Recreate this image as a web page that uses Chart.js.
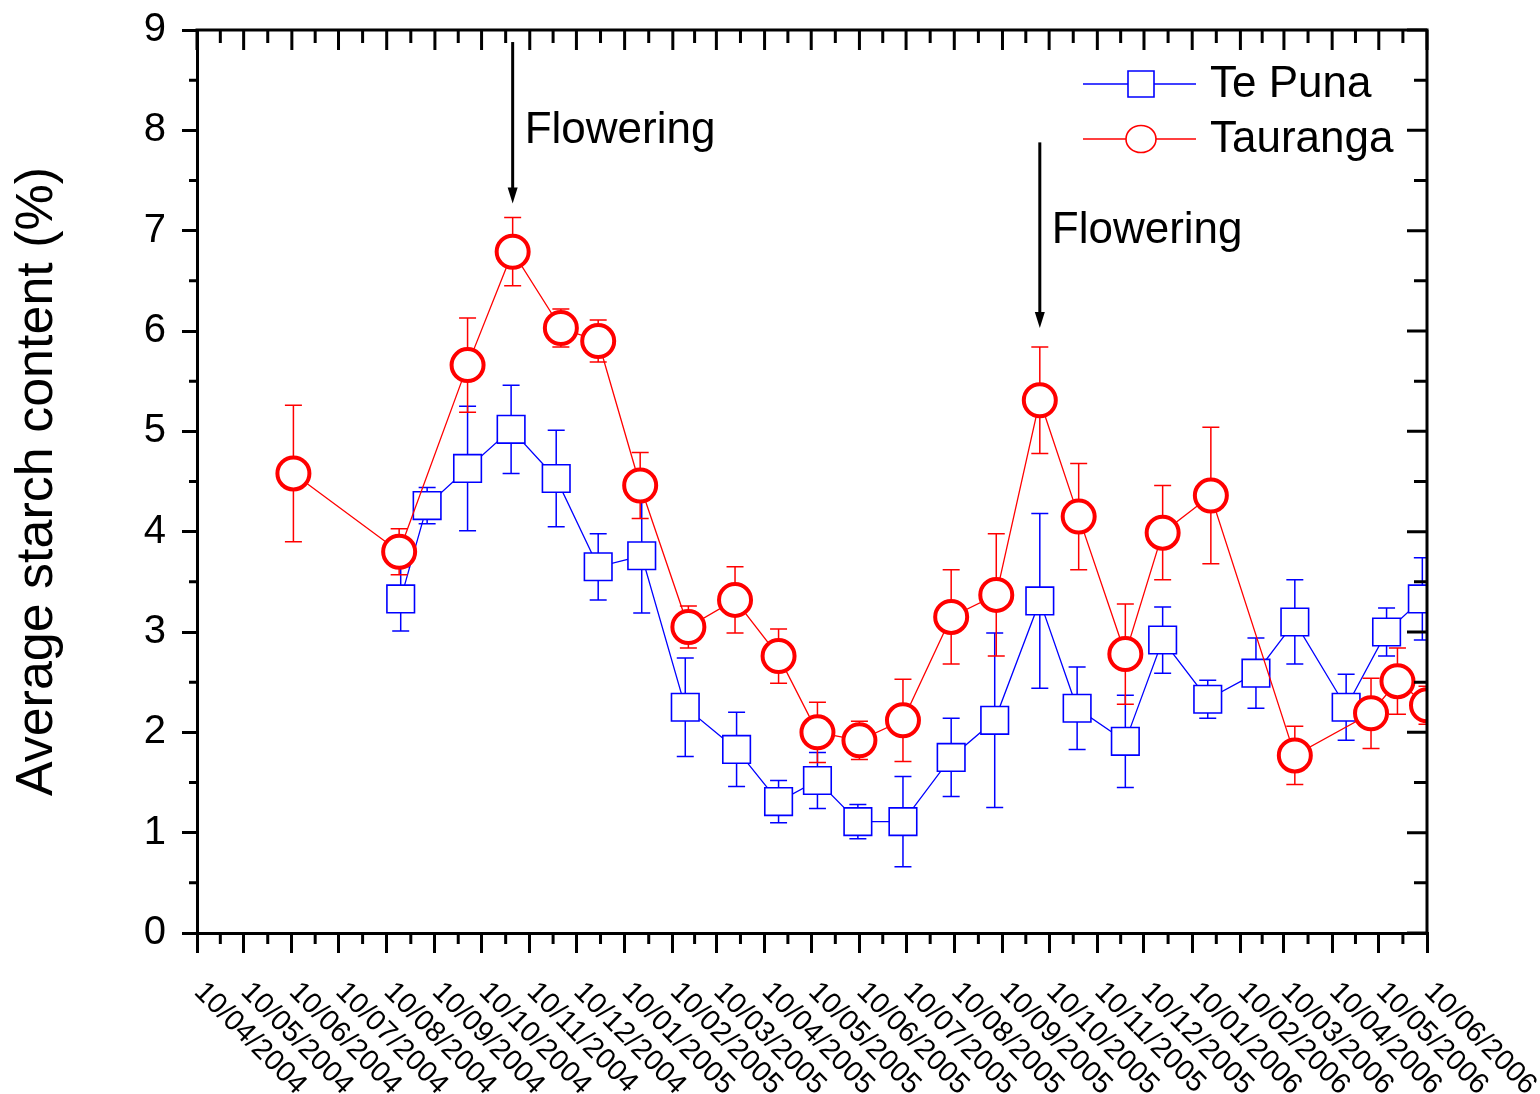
<!DOCTYPE html>
<html>
<head>
<meta charset="utf-8">
<title>Average starch content</title>
<script src="https://cdn.jsdelivr.net/npm/chart.js@4.4.1/dist/chart.umd.min.js"></script>
<style>
  html, body { margin: 0; padding: 0; background: #fff; }
  #myChart { display: block; }
</style>
</head>
<body>
<canvas id="myChart" width="1540" height="1094" style="width:1540px;height:1094px"></canvas>
<script>
// month ticks on the x axis (dd/mm/yyyy)
const tickLabels = [
    '10/04/2004', '10/05/2004', '10/06/2004', '10/07/2004', '10/08/2004', '10/09/2004',
    '10/10/2004', '10/11/2004', '10/12/2004', '10/01/2005', '10/02/2005', '10/03/2005',
    '10/04/2005', '10/05/2005', '10/06/2005', '10/07/2005', '10/08/2005', '10/09/2005',
    '10/10/2005', '10/11/2005', '10/12/2005', '10/01/2006', '10/02/2006', '10/03/2006',
    '10/04/2006', '10/05/2006', '10/06/2006'
];

// Te Puna
const tePunaDates = [
    '19/08/2004', '05/09/2004', '01/10/2004', '29/10/2004', '27/11/2004', '24/12/2004',
    '21/01/2005', '18/02/2005', '23/03/2005', '19/04/2005', '14/05/2005', '09/06/2005',
    '08/07/2005', '08/08/2005', '05/09/2005', '04/10/2005', '28/10/2005', '28/11/2005',
    '22/12/2005', '20/01/2006', '20/02/2006', '17/03/2006', '19/04/2006', '15/05/2006',
    '07/06/2006'
];
const tePunaMean = [3.33, 4.26, 4.63, 5.02, 4.53, 3.65, 3.76, 2.25, 1.83, 1.31, 1.52, 1.11,
    1.11, 1.75, 2.12, 3.31, 2.24, 1.91, 2.92, 2.33, 2.59, 3.10, 2.25, 3.00, 3.33];
const tePunaErr = [0.32, 0.18, 0.62, 0.44, 0.48, 0.33, 0.57, 0.49, 0.37, 0.21, 0.28, 0.17,
    0.45, 0.39, 0.87, 0.87, 0.41, 0.46, 0.33, 0.19, 0.35, 0.42, 0.33, 0.24, 0.41];

// Tauranga
const taurangaDates = [
    '11/06/2004', '18/08/2004', '01/10/2004', '30/10/2004', '30/11/2004', '24/12/2004',
    '20/01/2005', '20/02/2005', '22/03/2005', '19/04/2005', '14/05/2005', '10/06/2005',
    '08/07/2005', '08/08/2005', '06/09/2005', '04/10/2005', '29/10/2005', '28/11/2005',
    '22/12/2005', '22/01/2006', '17/03/2006', '05/05/2006', '22/05/2006', '10/06/2006'
];
const taurangaMean = [4.58, 3.80, 5.66, 6.79, 6.03, 5.90, 4.46, 3.05, 3.32, 2.76, 2.00, 1.92,
    2.12, 3.15, 3.37, 5.31, 4.15, 2.78, 3.99, 4.36, 1.77, 2.19, 2.51, 2.27];
const taurangaErr = [0.68, 0.23, 0.47, 0.34, 0.19, 0.21, 0.33, 0.21, 0.33, 0.27, 0.30, 0.19,
    0.41, 0.47, 0.61, 0.53, 0.53, 0.50, 0.47, 0.68, 0.29, 0.35, 0.33, 0.19];

// flowering arrows
const floweringDates = ['30/10/2004', '04/10/2005'];
const floweringFrom = [8.88, 7.88];
const floweringTo = [7.27, 6.03];

const FONT = "'Liberation Sans', Arial, sans-serif";

function dayNo(s) {
    const p = s.split('/');
    return (Date.UTC(+p[2], +p[1] - 1, +p[0]) - Date.UTC(2004, 3, 10)) / 86400000;
}

function points(dates, vals) {
    return dates.map((d, i) => ({ x: dayNo(d), y: vals[i] }));
}

const tickDays = tickLabels.map(dayNo);

const extras = {
    id: 'extras',
    beforeDatasetDraw(chart, args) {
        // error bars, under the markers of the same series
        const { ctx, chartArea: a, scales: { x, y } } = chart;
        const ds = chart.data.datasets[args.index];
        ctx.save();
        ctx.beginPath();
        ctx.rect(a.left, a.top, a.right - a.left, a.bottom - a.top);
        ctx.clip();
        ctx.strokeStyle = ds.borderColor;
        ctx.lineWidth = 1.5;
        ds.data.forEach((p, i) => {
            const px = x.getPixelForValue(p.x);
            const t = y.getPixelForValue(p.y + ds.err[i]);
            const b = y.getPixelForValue(p.y - ds.err[i]);
            ctx.beginPath();
            ctx.moveTo(px, t); ctx.lineTo(px, b);
            ctx.moveTo(px - 8.5, t); ctx.lineTo(px + 8.5, t);
            ctx.moveTo(px - 8.5, b); ctx.lineTo(px + 8.5, b);
            ctx.stroke();
        });
        ctx.restore();
    },
    afterDraw(chart) {
        const { ctx, chartArea: a, scales: { x, y } } = chart;
        ctx.save();

        // top and right frame with inward ticks, minor ticks everywhere
        ctx.strokeStyle = '#000';
        ctx.lineWidth = 3;
        ctx.beginPath();
        ctx.moveTo(a.left - 1.5, a.top);
        ctx.lineTo(a.right, a.top);
        ctx.lineTo(a.right, a.bottom + 1.5);
        ctx.stroke();

        ctx.beginPath();
        tickDays.forEach((v, i) => {
            const px = x.getPixelForValue(v);
            ctx.moveTo(px, a.top); ctx.lineTo(px, a.top + 20);
            if (i < tickDays.length - 1) {
                const mx = x.getPixelForValue((v + tickDays[i + 1]) / 2);
                ctx.moveTo(mx, a.top); ctx.lineTo(mx, a.top + 13);
                ctx.moveTo(mx, a.bottom); ctx.lineTo(mx, a.bottom + 11);
            }
        });
        for (let v = 0; v <= 9; v += 0.5) {
            const py = y.getPixelForValue(v);
            const major = v % 1 === 0;
            ctx.moveTo(a.right, py); ctx.lineTo(a.right - (major ? 20 : 13), py);
            if (!major) { ctx.moveTo(a.left, py); ctx.lineTo(a.left - 8, py); }
        }
        ctx.stroke();

        // slanted date labels
        ctx.fillStyle = '#000';
        ctx.font = '29px ' + FONT;
        ctx.textAlign = 'left';
        ctx.textBaseline = 'top';
        tickLabels.forEach((lab, i) => {
            ctx.save();
            ctx.translate(x.getPixelForValue(tickDays[i]) + 12, a.bottom + 44);
            ctx.rotate(Math.PI / 4);
            ctx.fillText(lab, 0, 0);
            ctx.restore();
        });

        // flowering arrows
        ctx.font = '44px ' + FONT;
        ctx.textBaseline = 'alphabetic';
        floweringDates.forEach((d, i) => {
            const px = x.getPixelForValue(dayNo(d));
            const y0 = y.getPixelForValue(floweringFrom[i]);
            const y1 = y.getPixelForValue(floweringTo[i]);
            ctx.lineWidth = 3;
            ctx.beginPath();
            ctx.moveTo(px, y0); ctx.lineTo(px, y1 - 14);
            ctx.stroke();
            ctx.beginPath();
            ctx.moveTo(px - 5, y1 - 16); ctx.lineTo(px + 5, y1 - 16); ctx.lineTo(px, y1);
            ctx.closePath();
            ctx.fill();
            ctx.fillText('Flowering', px + 12, y0 + 101);
        });

        // legend
        const items = [chart.data.datasets[0], chart.data.datasets[1]];
        items.forEach((ds, i) => {
            const ly = 84 + i * 55;
            ctx.strokeStyle = ds.borderColor;
            ctx.lineWidth = 1.3;
            ctx.beginPath();
            ctx.moveTo(1083, ly); ctx.lineTo(1196, ly);
            ctx.stroke();
            ctx.fillStyle = '#fff';
            ctx.lineWidth = 1.6;
            ctx.beginPath();
            if (ds.pointStyle === 'rect') ctx.rect(1128, ly - 13, 26, 26);
            else ctx.ellipse(1141, ly, 15, 13.5, 0, 0, Math.PI * 2);
            ctx.fill();
            ctx.stroke();
            ctx.fillStyle = '#000';
            ctx.font = '44px ' + FONT;
            ctx.textBaseline = 'middle';
            ctx.fillText(ds.label, 1210, ly + 1);
        });

        ctx.restore();
    }
};

const ctx = document.getElementById('myChart').getContext('2d');
const myChart = new Chart(ctx, {
    type: 'line',
    data: {
        datasets: [{
            label: 'Te Puna',
            data: points(tePunaDates, tePunaMean),
            err: tePunaErr,
            borderColor: '#0000ff',
            borderWidth: 1.3,
            pointStyle: 'rect',
            pointRadius: 19.5,
            pointBorderWidth: 1.6,
            pointBorderColor: '#0000ff',
            pointBackgroundColor: '#fff',
            order: 2
        }, {
            label: 'Tauranga',
            data: points(taurangaDates, taurangaMean),
            err: taurangaErr,
            borderColor: '#ff0000',
            borderWidth: 1.3,
            pointStyle: 'circle',
            pointRadius: 16,
            pointBorderWidth: 4,
            pointBorderColor: '#ff0000',
            pointBackgroundColor: '#fff',
            order: 1
        }]
    },
    options: {
        responsive: false,
        animation: false,
        events: [],
        layout: { padding: { top: 30, right: 113, left: 0, bottom: 0 } },
        plugins: {
            legend: { display: false },
            tooltip: { enabled: false }
        },
        scales: {
            x: {
                type: 'linear',
                min: 0,
                max: tickDays[tickDays.length - 1],
                afterBuildTicks: s => { s.ticks = tickDays.map(v => ({ value: v })); },
                afterFit: s => { s.height = 1094 - 933; s.paddingLeft = 0; s.paddingRight = 0; },
                ticks: { display: false },
                grid: { drawOnChartArea: false, drawTicks: true, tickLength: 20, lineWidth: 3, color: '#000' },
                border: { display: true, width: 3, color: '#000' }
            },
            y: {
                min: 0,
                max: 9,
                afterFit: s => { s.width = 197; s.paddingTop = 0; s.paddingBottom = 0; },
                ticks: { stepSize: 1, padding: 16, color: '#000', font: { family: FONT, size: 40 } },
                grid: { drawOnChartArea: false, drawTicks: true, tickLength: 15, lineWidth: 3, color: '#000' },
                border: { display: true, width: 3, color: '#000' },
                title: {
                    display: true,
                    text: 'Average starch content (%)',
                    color: '#000',
                    font: { family: FONT, size: 52 },
                    padding: { top: 6, bottom: 0 }
                }
            }
        }
    },
    plugins: [extras]
});
</script>
</body>
</html>
